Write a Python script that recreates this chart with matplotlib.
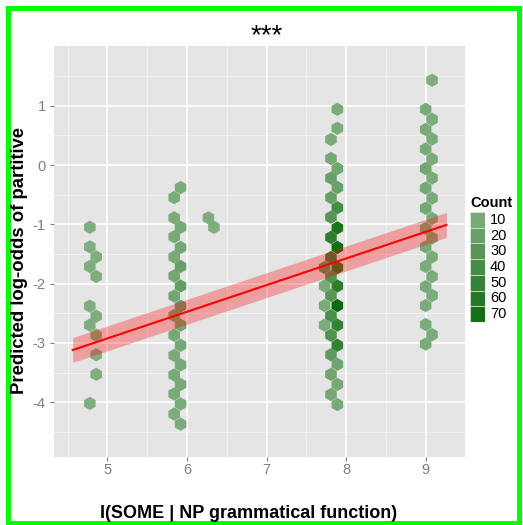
import matplotlib
matplotlib.use('Agg')  # Use non-interactive backend
import matplotlib.pyplot as plt
from matplotlib.colors import LinearSegmentedColormap, Normalize
from matplotlib.patches import Rectangle

plt.rcParams['font.family'] = ['Liberation Sans', 'DejaVu Sans']
plt.rcParams['axes.unicode_minus'] = False

# hexbin cells: centre x, centre y, count
hex_x = ([4.78] * 6 + [4.86] * 6 +
         [5.92, 5.84, 5.84, 5.92, 5.84, 5.92, 5.84, 5.92, 5.84, 5.92, 5.84, 5.92,
          5.84, 5.92, 5.84, 5.92, 5.84, 5.92, 5.84, 5.92, 5.84, 5.92, 5.84, 5.92] +
         [6.27, 6.34] +
         [7.89] * 15 + [7.81] * 14 + [7.73] * 4 +
         [9.08, 9.00, 9.08, 9.00, 9.08, 9.00, 9.08, 9.00, 9.08, 9.00, 9.08, 9.00,
          9.08, 9.00, 9.08, 9.00, 9.08, 9.00, 9.08, 9.00, 9.08, 9.00, 9.00, 9.08, 9.00])
hex_y = ([-1.05, -1.38, -1.71, -2.38, -2.70, -4.02] +
         [-1.55, -1.88, -2.55, -2.87, -3.20, -3.53] +
         [-0.38, -0.55, -0.89, -1.05, -1.21, -1.39, -1.55, -1.71, -1.87, -2.04, -2.21, -2.38,
          -2.54, -2.70, -2.87, -3.04, -3.21, -3.37, -3.54, -3.70, -3.86, -4.03, -4.20, -4.37] +
         [-0.89, -1.05] +
         [0.94, 0.62, -0.06, -0.38, -0.72, -1.06, -1.39, -1.73, -2.04, -2.37, -2.70, -3.04,
          -3.36, -3.70, -4.04] +
         [0.43, 0.11, -0.22, -0.55, -0.88, -1.22, -1.56, -1.89, -2.20, -2.54, -2.87, -3.20,
          -3.53, -3.87] +
         [-1.73, -2.04, -2.37, -2.70] +
         [1.43, 0.94, 0.77, 0.60, 0.44, 0.27, 0.10, -0.06, -0.22, -0.39, -0.56, -0.73,
          -0.90, -1.07, -1.23, -1.38, -1.55, -1.71, -1.88, -2.05, -2.20, -2.37, -2.69, -2.86, -3.02])
hex_count = ([6] * 12 +
             [8, 8, 8, 10, 10, 12, 10, 20, 14, 22, 14, 20,
              16, 14, 12, 12, 10, 10, 10, 10, 10, 8, 8, 8] +
             [6, 6] +
             [8, 8, 14, 20, 40, 65, 70, 60, 55, 75, 50, 52, 15, 10, 10] +
             [8, 12, 20, 20, 30, 55, 50, 35, 30, 38, 35, 25, 15, 12] +
             [30, 8, 8, 8] +
             [6, 8, 8, 8, 8, 10, 8, 14, 8, 12, 8, 14,
              8, 10, 10, 10, 8, 8, 8, 8, 8, 8, 8, 8, 8])

# fitted line with confidence band
fit_x = [4.565, 9.26]
fit_y = [-3.12, -1.01]
fit_lo = [-3.33, -1.22]
fit_hi = [-2.91, -0.80]

x_ticks = [5, 6, 7, 8, 9]
y_ticks = [-4, -3, -2, -1, 0, 1]
legend_breaks = [10, 20, 30, 40, 50, 60, 70]

W, H = 523, 525


def px_box(left, top, width, height):
    return [left / W, 1 - (top + height) / H, width / W, height / H]


cmap = LinearSegmentedColormap.from_list('counts', ['#86b386', '#0b6b0b'])
norm = Normalize(vmin=1, vmax=75)

fig = plt.figure(figsize=(W / 100, H / 100), dpi=100)
fig.patch.set_facecolor('white')

ax = fig.add_axes(px_box(54, 46, 411, 411))
ax.set_facecolor('#e5e5e5')
for s in ax.spines.values():
    s.set_visible(False)
ax.set_xlim(4.33, 9.494)
ax.set_ylim(-4.924, 2.007)

# grid: minor lines first, then major
for v in [4.5, 5.5, 6.5, 7.5, 8.5, 9.5]:
    ax.axvline(v, color='#f2f2f2', lw=0.7, zorder=0)
for v in [1.5, 0.5, -0.5, -1.5, -2.5, -3.5, -4.5]:
    ax.axhline(v, color='#f2f2f2', lw=0.7, zorder=0)
for v in x_ticks:
    ax.axvline(v, color='white', lw=1.2, zorder=0.5)
for v in y_ticks:
    ax.axhline(v, color='white', lw=1.2, zorder=0.5)

ax.scatter(hex_x, hex_y, c=hex_count, cmap=cmap, norm=norm, marker='h',
           s=92, linewidths=0, zorder=2)

ax.fill_between(fit_x, fit_lo, fit_hi, color='red', alpha=0.3, lw=0, zorder=3)
ax.plot(fit_x, fit_y, color='red', lw=1.5, zorder=4)

ax.set_xticks(x_ticks)
ax.set_yticks(y_ticks)
ax.tick_params(colors='#7f7f7f', labelcolor='#7f7f7f', labelsize=10.5, length=3, width=0.8)
ax.tick_params(axis='x', pad=1)
ax.tick_params(axis='y', pad=3)

fig.text(267 / W, 1 - 36 / H, '***', ha='center', va='center', fontsize=20)
fig.text(248.5 / W, 1 - 513 / H, 'I(SOME | NP grammatical function)', ha='center',
         va='center', fontsize=13, fontweight='bold')
fig.text(20 / W, 1 - 260 / H, 'Predicted log-odds of partitive', ha='center',
         va='center', rotation=90, fontsize=13.3, fontweight='bold')

# legend for counts
lax = fig.add_axes(px_box(470, 212, 15, 110))
lax.set_xlim(0, 1)
lax.set_ylim(len(legend_breaks), 0)
lax.axis('off')
for i, b in enumerate(legend_breaks):
    lax.add_patch(Rectangle((0, i), 1, 1, facecolor=cmap(norm(b)), edgecolor='#e5e5e5', lw=0.5))
    fig.text(490 / W, 1 - (212 + 110 / 7 * (i + 0.5)) / H, str(b), ha='left',
             va='center', fontsize=10.5)
fig.text(470 / W, 1 - 203 / H, 'Count', ha='left', va='center', fontsize=10.5,
         fontweight='bold')

# outer frame
fig.add_artist(Rectangle((7.5 / W, 2.5 / H), 511 / W, 515 / H, transform=fig.transFigure,
                         fill=False, edgecolor='#00ff00', lw=3.6))

fig.savefig('out.png', dpi=100)
